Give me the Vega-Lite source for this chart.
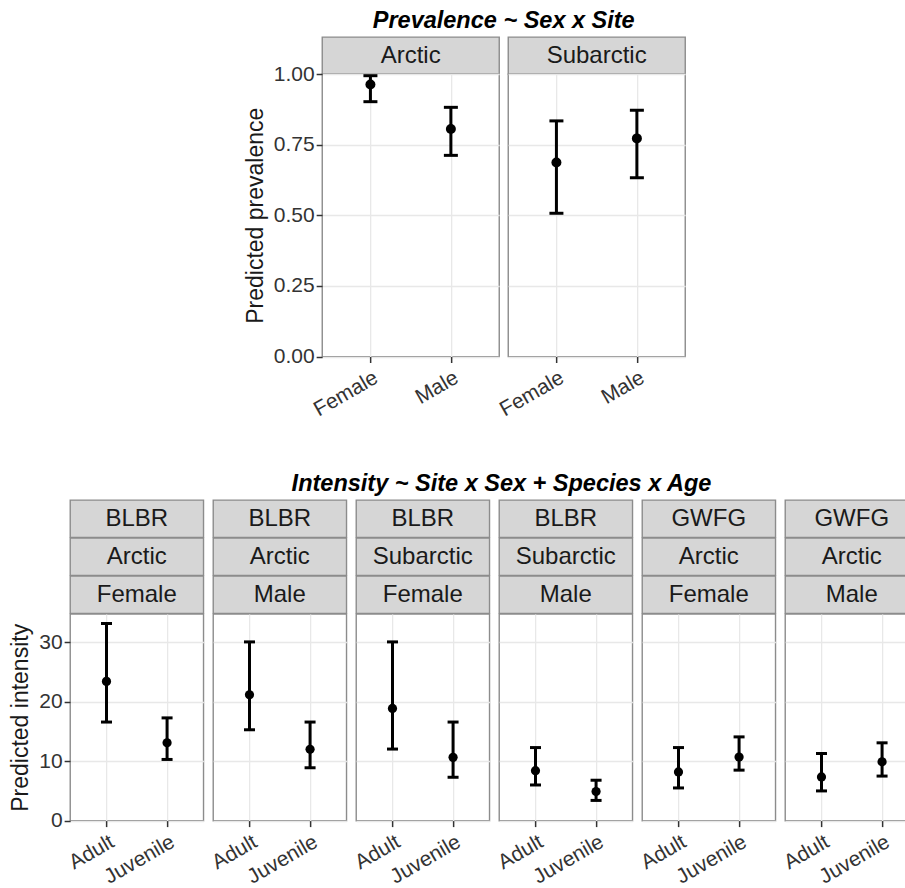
{
  "$schema": "https://vega.github.io/schema/vega-lite/v6.json",
  "background": "white",
  "padding": {"left": 9, "top": 8, "right": 0, "bottom": 0},
  "datasets": {
    "prev": [
      {"Site": "Arctic", "Sex": "Female", "fit": 0.963, "lo": 0.902, "hi": 0.994},
      {"Site": "Arctic", "Sex": "Male", "fit": 0.805, "lo": 0.712, "hi": 0.882},
      {"Site": "Subarctic", "Sex": "Female", "fit": 0.687, "lo": 0.507, "hi": 0.834},
      {"Site": "Subarctic", "Sex": "Male", "fit": 0.772, "lo": 0.633, "hi": 0.872}
    ],
    "int": [
      {"Species": "BLBR", "Site": "Arctic", "Sex": "Female", "Age": "Adult", "fit": 23.45, "lo": 16.6, "hi": 33.2},
      {"Species": "BLBR", "Site": "Arctic", "Sex": "Female", "Age": "Juvenile", "fit": 13.1, "lo": 10.3, "hi": 17.3},
      {"Species": "BLBR", "Site": "Arctic", "Sex": "Male", "Age": "Adult", "fit": 21.2, "lo": 15.3, "hi": 30.1},
      {"Species": "BLBR", "Site": "Arctic", "Sex": "Male", "Age": "Juvenile", "fit": 12.0, "lo": 8.9, "hi": 16.6},
      {"Species": "BLBR", "Site": "Subarctic", "Sex": "Female", "Age": "Adult", "fit": 18.9, "lo": 12.05, "hi": 30.1},
      {"Species": "BLBR", "Site": "Subarctic", "Sex": "Female", "Age": "Juvenile", "fit": 10.65, "lo": 7.3, "hi": 16.6},
      {"Species": "BLBR", "Site": "Subarctic", "Sex": "Male", "Age": "Adult", "fit": 8.4, "lo": 6.0, "hi": 12.3},
      {"Species": "BLBR", "Site": "Subarctic", "Sex": "Male", "Age": "Juvenile", "fit": 4.9, "lo": 3.4, "hi": 6.8},
      {"Species": "GWFG", "Site": "Arctic", "Sex": "Female", "Age": "Adult", "fit": 8.2, "lo": 5.5, "hi": 12.3},
      {"Species": "GWFG", "Site": "Arctic", "Sex": "Female", "Age": "Juvenile", "fit": 10.7, "lo": 8.5, "hi": 14.1},
      {"Species": "GWFG", "Site": "Arctic", "Sex": "Male", "Age": "Adult", "fit": 7.35, "lo": 5.0, "hi": 11.3},
      {"Species": "GWFG", "Site": "Arctic", "Sex": "Male", "Age": "Juvenile", "fit": 9.9, "lo": 7.5, "hi": 13.1}
    ]
  },
  "config": {
    "font": "Liberation Sans",
    "view": {"stroke": "#8c8c8c", "strokeWidth": 1.4},
    "axis": {
      "labelFontSize": 21, "labelColor": "#333333", "labelFont": "Liberation Sans",
      "titleFontSize": 23, "titleColor": "#1a1a1a", "titleFontWeight": "normal", "titleFont": "Liberation Sans",
      "gridColor": "#e8e8e8", "gridWidth": 1.3,
      "tickColor": "#333333", "tickWidth": 1.5, "tickSize": 6,
      "domain": false, "labelPadding": 2, "titlePadding": 6
    },
    "title": {"fontSize": 23.5, "fontWeight": "bold", "fontStyle": "italic", "color": "#000000", "anchor": "middle", "offset": 4, "font": "Liberation Sans"}
  },
  "spacing": 50,
  "center": true,
  "vconcat": [
    {
      "title": {"text": "Prevalence ~ Sex x Site", "dx": 39},
      "columns": 2,
      "bounds": "flush",
      "align": "each",
      "spacing": {"row": 0, "column": 9},
      "concat": [
        {
          "width": 177, "height": 37, "view": {"fill": "#d6d6d6", "stroke": "#8c8c8c", "strokeWidth": 1.4},
          "data": {"name": "prev"},
          "transform": [{"filter": "datum.Site == 'Arctic'"}, {"aggregate": [{"op": "count", "as": "n"}], "groupby": ["Site"]}],
          "mark": {"type": "text", "fontSize": 24, "color": "#1a1a1a"},
          "encoding": {"text": {"field": "Site", "type": "nominal"}}
        },
        {
          "width": 177, "height": 37, "view": {"fill": "#d6d6d6", "stroke": "#8c8c8c", "strokeWidth": 1.4},
          "data": {"name": "prev"},
          "transform": [{"filter": "datum.Site == 'Subarctic'"}, {"aggregate": [{"op": "count", "as": "n"}], "groupby": ["Site"]}],
          "mark": {"type": "text", "fontSize": 24, "color": "#1a1a1a"},
          "encoding": {"text": {"field": "Site", "type": "nominal"}}
        },
        {
          "width": 177, "height": 282.5,
          "data": {"name": "prev"},
          "transform": [{"filter": "datum.Site == 'Arctic'"}],
          "encoding": {"x": {"field": "Sex", "type": "nominal", "sort": ["Female", "Male"], "scale": {"type": "point", "padding": 0.6}, "axis": {"title": null, "labelAngle": -30, "labelAlign": "right", "labelBaseline": "top", "grid": true, "labelPadding": 4}}},
          "layer": [
            {"mark": {"type": "rule", "strokeWidth": 3, "color": "black"},
             "encoding": {"y": {"field": "lo", "type": "quantitative", "scale": {"domain": [0, 1], "nice": false},
               "axis": {"title": "Predicted prevalence", "values": [0, 0.125, 0.25, 0.375, 0.5, 0.625, 0.75, 0.875, 1],
                 "labelExpr": "datum.value * 8 % 2 == 1 ? '' : format(datum.value, '.2f')",
                 "tickOpacity": {"condition": {"test": "datum.value * 8 % 2 == 1", "value": 0}, "value": 1},
                 "gridColor": {"condition": {"test": "datum.value * 8 % 2 == 1", "value": "#f3f3f3"}, "value": "#e8e8e8"},
                 "labelOverlap": false}},
               "y2": {"field": "hi"}}},
            {"mark": {"type": "tick", "thickness": 3, "size": 14, "color": "black", "opacity": 1}, "encoding": {"y": {"field": "lo", "type": "quantitative"}}},
            {"mark": {"type": "tick", "thickness": 3, "size": 14, "color": "black", "opacity": 1}, "encoding": {"y": {"field": "hi", "type": "quantitative"}}},
            {"mark": {"type": "point", "filled": true, "size": 100, "color": "black", "opacity": 1}, "encoding": {"y": {"field": "fit", "type": "quantitative"}}}
          ]
        },
        {
          "width": 177, "height": 282.5,
          "data": {"name": "prev"},
          "transform": [{"filter": "datum.Site == 'Subarctic'"}],
          "encoding": {"x": {"field": "Sex", "type": "nominal", "sort": ["Female", "Male"], "scale": {"type": "point", "padding": 0.6}, "axis": {"title": null, "labelAngle": -30, "labelAlign": "right", "labelBaseline": "top", "grid": true, "labelPadding": 4}}},
          "layer": [
            {"mark": {"type": "rule", "strokeWidth": 3, "color": "black"},
             "encoding": {"y": {"field": "lo", "type": "quantitative", "scale": {"domain": [0, 1], "nice": false},
               "axis": {"title": null, "labels": false, "ticks": false, "values": [0, 0.125, 0.25, 0.375, 0.5, 0.625, 0.75, 0.875, 1],
                 "gridColor": {"condition": {"test": "datum.value * 8 % 2 == 1", "value": "#f3f3f3"}, "value": "#e8e8e8"}}},
               "y2": {"field": "hi"}}},
            {"mark": {"type": "tick", "thickness": 3, "size": 14, "color": "black", "opacity": 1}, "encoding": {"y": {"field": "lo", "type": "quantitative"}}},
            {"mark": {"type": "tick", "thickness": 3, "size": 14, "color": "black", "opacity": 1}, "encoding": {"y": {"field": "hi", "type": "quantitative"}}},
            {"mark": {"type": "point", "filled": true, "size": 100, "color": "black", "opacity": 1}, "encoding": {"y": {"field": "fit", "type": "quantitative"}}}
          ]
        }
      ]
    },
    {
      "title": {"text": "Intensity ~ Site x Sex + Species x Age", "dx": 28},
      "columns": 6,
      "bounds": "flush",
      "align": "each",
      "spacing": {"row": 0, "column": 9},
      "concat": [
        {"width": 133.3, "height": 37.3, "view": {"fill": "#d6d6d6", "stroke": "#8c8c8c", "strokeWidth": 1.4}, "data": {"name": "int"}, "transform": [{"filter": "datum.Species == 'BLBR' && datum.Site == 'Arctic' && datum.Sex == 'Female'"}, {"aggregate": [{"op": "count", "as": "n"}], "groupby": ["Species"]}], "mark": {"type": "text", "fontSize": 24, "color": "#1a1a1a"}, "encoding": {"text": {"field": "Species", "type": "nominal"}}},
        {"width": 133.3, "height": 37.3, "view": {"fill": "#d6d6d6", "stroke": "#8c8c8c", "strokeWidth": 1.4}, "data": {"name": "int"}, "transform": [{"filter": "datum.Species == 'BLBR' && datum.Site == 'Arctic' && datum.Sex == 'Male'"}, {"aggregate": [{"op": "count", "as": "n"}], "groupby": ["Species"]}], "mark": {"type": "text", "fontSize": 24, "color": "#1a1a1a"}, "encoding": {"text": {"field": "Species", "type": "nominal"}}},
        {"width": 133.3, "height": 37.3, "view": {"fill": "#d6d6d6", "stroke": "#8c8c8c", "strokeWidth": 1.4}, "data": {"name": "int"}, "transform": [{"filter": "datum.Species == 'BLBR' && datum.Site == 'Subarctic' && datum.Sex == 'Female'"}, {"aggregate": [{"op": "count", "as": "n"}], "groupby": ["Species"]}], "mark": {"type": "text", "fontSize": 24, "color": "#1a1a1a"}, "encoding": {"text": {"field": "Species", "type": "nominal"}}},
        {"width": 133.3, "height": 37.3, "view": {"fill": "#d6d6d6", "stroke": "#8c8c8c", "strokeWidth": 1.4}, "data": {"name": "int"}, "transform": [{"filter": "datum.Species == 'BLBR' && datum.Site == 'Subarctic' && datum.Sex == 'Male'"}, {"aggregate": [{"op": "count", "as": "n"}], "groupby": ["Species"]}], "mark": {"type": "text", "fontSize": 24, "color": "#1a1a1a"}, "encoding": {"text": {"field": "Species", "type": "nominal"}}},
        {"width": 133.3, "height": 37.3, "view": {"fill": "#d6d6d6", "stroke": "#8c8c8c", "strokeWidth": 1.4}, "data": {"name": "int"}, "transform": [{"filter": "datum.Species == 'GWFG' && datum.Site == 'Arctic' && datum.Sex == 'Female'"}, {"aggregate": [{"op": "count", "as": "n"}], "groupby": ["Species"]}], "mark": {"type": "text", "fontSize": 24, "color": "#1a1a1a"}, "encoding": {"text": {"field": "Species", "type": "nominal"}}},
        {"width": 133.3, "height": 37.3, "view": {"fill": "#d6d6d6", "stroke": "#8c8c8c", "strokeWidth": 1.4}, "data": {"name": "int"}, "transform": [{"filter": "datum.Species == 'GWFG' && datum.Site == 'Arctic' && datum.Sex == 'Male'"}, {"aggregate": [{"op": "count", "as": "n"}], "groupby": ["Species"]}], "mark": {"type": "text", "fontSize": 24, "color": "#1a1a1a"}, "encoding": {"text": {"field": "Species", "type": "nominal"}}},

        {"width": 133.3, "height": 37.3, "view": {"fill": "#d6d6d6", "stroke": "#8c8c8c", "strokeWidth": 1.4}, "data": {"name": "int"}, "transform": [{"filter": "datum.Species == 'BLBR' && datum.Site == 'Arctic' && datum.Sex == 'Female'"}, {"aggregate": [{"op": "count", "as": "n"}], "groupby": ["Site"]}], "mark": {"type": "text", "fontSize": 24, "color": "#1a1a1a"}, "encoding": {"text": {"field": "Site", "type": "nominal"}}},
        {"width": 133.3, "height": 37.3, "view": {"fill": "#d6d6d6", "stroke": "#8c8c8c", "strokeWidth": 1.4}, "data": {"name": "int"}, "transform": [{"filter": "datum.Species == 'BLBR' && datum.Site == 'Arctic' && datum.Sex == 'Male'"}, {"aggregate": [{"op": "count", "as": "n"}], "groupby": ["Site"]}], "mark": {"type": "text", "fontSize": 24, "color": "#1a1a1a"}, "encoding": {"text": {"field": "Site", "type": "nominal"}}},
        {"width": 133.3, "height": 37.3, "view": {"fill": "#d6d6d6", "stroke": "#8c8c8c", "strokeWidth": 1.4}, "data": {"name": "int"}, "transform": [{"filter": "datum.Species == 'BLBR' && datum.Site == 'Subarctic' && datum.Sex == 'Female'"}, {"aggregate": [{"op": "count", "as": "n"}], "groupby": ["Site"]}], "mark": {"type": "text", "fontSize": 24, "color": "#1a1a1a"}, "encoding": {"text": {"field": "Site", "type": "nominal"}}},
        {"width": 133.3, "height": 37.3, "view": {"fill": "#d6d6d6", "stroke": "#8c8c8c", "strokeWidth": 1.4}, "data": {"name": "int"}, "transform": [{"filter": "datum.Species == 'BLBR' && datum.Site == 'Subarctic' && datum.Sex == 'Male'"}, {"aggregate": [{"op": "count", "as": "n"}], "groupby": ["Site"]}], "mark": {"type": "text", "fontSize": 24, "color": "#1a1a1a"}, "encoding": {"text": {"field": "Site", "type": "nominal"}}},
        {"width": 133.3, "height": 37.3, "view": {"fill": "#d6d6d6", "stroke": "#8c8c8c", "strokeWidth": 1.4}, "data": {"name": "int"}, "transform": [{"filter": "datum.Species == 'GWFG' && datum.Site == 'Arctic' && datum.Sex == 'Female'"}, {"aggregate": [{"op": "count", "as": "n"}], "groupby": ["Site"]}], "mark": {"type": "text", "fontSize": 24, "color": "#1a1a1a"}, "encoding": {"text": {"field": "Site", "type": "nominal"}}},
        {"width": 133.3, "height": 37.3, "view": {"fill": "#d6d6d6", "stroke": "#8c8c8c", "strokeWidth": 1.4}, "data": {"name": "int"}, "transform": [{"filter": "datum.Species == 'GWFG' && datum.Site == 'Arctic' && datum.Sex == 'Male'"}, {"aggregate": [{"op": "count", "as": "n"}], "groupby": ["Site"]}], "mark": {"type": "text", "fontSize": 24, "color": "#1a1a1a"}, "encoding": {"text": {"field": "Site", "type": "nominal"}}},

        {"width": 133.3, "height": 37.3, "view": {"fill": "#d6d6d6", "stroke": "#8c8c8c", "strokeWidth": 1.4}, "data": {"name": "int"}, "transform": [{"filter": "datum.Species == 'BLBR' && datum.Site == 'Arctic' && datum.Sex == 'Female'"}, {"aggregate": [{"op": "count", "as": "n"}], "groupby": ["Sex"]}], "mark": {"type": "text", "fontSize": 24, "color": "#1a1a1a"}, "encoding": {"text": {"field": "Sex", "type": "nominal"}}},
        {"width": 133.3, "height": 37.3, "view": {"fill": "#d6d6d6", "stroke": "#8c8c8c", "strokeWidth": 1.4}, "data": {"name": "int"}, "transform": [{"filter": "datum.Species == 'BLBR' && datum.Site == 'Arctic' && datum.Sex == 'Male'"}, {"aggregate": [{"op": "count", "as": "n"}], "groupby": ["Sex"]}], "mark": {"type": "text", "fontSize": 24, "color": "#1a1a1a"}, "encoding": {"text": {"field": "Sex", "type": "nominal"}}},
        {"width": 133.3, "height": 37.3, "view": {"fill": "#d6d6d6", "stroke": "#8c8c8c", "strokeWidth": 1.4}, "data": {"name": "int"}, "transform": [{"filter": "datum.Species == 'BLBR' && datum.Site == 'Subarctic' && datum.Sex == 'Female'"}, {"aggregate": [{"op": "count", "as": "n"}], "groupby": ["Sex"]}], "mark": {"type": "text", "fontSize": 24, "color": "#1a1a1a"}, "encoding": {"text": {"field": "Sex", "type": "nominal"}}},
        {"width": 133.3, "height": 37.3, "view": {"fill": "#d6d6d6", "stroke": "#8c8c8c", "strokeWidth": 1.4}, "data": {"name": "int"}, "transform": [{"filter": "datum.Species == 'BLBR' && datum.Site == 'Subarctic' && datum.Sex == 'Male'"}, {"aggregate": [{"op": "count", "as": "n"}], "groupby": ["Sex"]}], "mark": {"type": "text", "fontSize": 24, "color": "#1a1a1a"}, "encoding": {"text": {"field": "Sex", "type": "nominal"}}},
        {"width": 133.3, "height": 37.3, "view": {"fill": "#d6d6d6", "stroke": "#8c8c8c", "strokeWidth": 1.4}, "data": {"name": "int"}, "transform": [{"filter": "datum.Species == 'GWFG' && datum.Site == 'Arctic' && datum.Sex == 'Female'"}, {"aggregate": [{"op": "count", "as": "n"}], "groupby": ["Sex"]}], "mark": {"type": "text", "fontSize": 24, "color": "#1a1a1a"}, "encoding": {"text": {"field": "Sex", "type": "nominal"}}},
        {"width": 133.3, "height": 37.3, "view": {"fill": "#d6d6d6", "stroke": "#8c8c8c", "strokeWidth": 1.4}, "data": {"name": "int"}, "transform": [{"filter": "datum.Species == 'GWFG' && datum.Site == 'Arctic' && datum.Sex == 'Male'"}, {"aggregate": [{"op": "count", "as": "n"}], "groupby": ["Sex"]}], "mark": {"type": "text", "fontSize": 24, "color": "#1a1a1a"}, "encoding": {"text": {"field": "Sex", "type": "nominal"}}},

        {
          "width": 133.3, "height": 206.6, "data": {"name": "int"},
          "transform": [{"filter": "datum.Species == 'BLBR' && datum.Site == 'Arctic' && datum.Sex == 'Female'"}],
          "encoding": {"x": {"field": "Age", "type": "nominal", "sort": ["Adult", "Juvenile"], "scale": {"type": "point", "padding": 0.6}, "axis": {"title": null, "labelAngle": -30, "labelAlign": "right", "labelBaseline": "top", "grid": true, "labelPadding": 4}}},
          "layer": [
            {"mark": {"type": "rule", "strokeWidth": 3, "color": "black"},
             "encoding": {"y": {"field": "lo", "type": "quantitative", "scale": {"domain": [0, 34.8], "nice": false},
               "axis": {"title": "Predicted intensity", "values": [0, 5, 10, 15, 20, 25, 30],
                 "labelExpr": "datum.value % 10 != 0 ? '' : datum.label",
                 "tickOpacity": {"condition": {"test": "datum.value % 10 != 0", "value": 0}, "value": 1},
                 "gridColor": {"condition": {"test": "datum.value % 10 != 0", "value": "#f3f3f3"}, "value": "#e8e8e8"},
                 "labelOverlap": false}},
               "y2": {"field": "hi"}}},
            {"mark": {"type": "tick", "thickness": 3, "size": 11, "color": "black", "opacity": 1}, "encoding": {"y": {"field": "lo", "type": "quantitative"}}},
            {"mark": {"type": "tick", "thickness": 3, "size": 11, "color": "black", "opacity": 1}, "encoding": {"y": {"field": "hi", "type": "quantitative"}}},
            {"mark": {"type": "point", "filled": true, "size": 85, "color": "black", "opacity": 1}, "encoding": {"y": {"field": "fit", "type": "quantitative"}}}
          ]
        },
        {
          "width": 133.3, "height": 206.6, "data": {"name": "int"},
          "transform": [{"filter": "datum.Species == 'BLBR' && datum.Site == 'Arctic' && datum.Sex == 'Male'"}],
          "encoding": {"x": {"field": "Age", "type": "nominal", "sort": ["Adult", "Juvenile"], "scale": {"type": "point", "padding": 0.6}, "axis": {"title": null, "labelAngle": -30, "labelAlign": "right", "labelBaseline": "top", "grid": true, "labelPadding": 4}}},
          "layer": [
            {"mark": {"type": "rule", "strokeWidth": 3, "color": "black"},
             "encoding": {"y": {"field": "lo", "type": "quantitative", "scale": {"domain": [0, 34.8], "nice": false},
               "axis": {"title": null, "labels": false, "ticks": false, "values": [0, 5, 10, 15, 20, 25, 30],
                 "gridColor": {"condition": {"test": "datum.value % 10 != 0", "value": "#f3f3f3"}, "value": "#e8e8e8"}}},
               "y2": {"field": "hi"}}},
            {"mark": {"type": "tick", "thickness": 3, "size": 11, "color": "black", "opacity": 1}, "encoding": {"y": {"field": "lo", "type": "quantitative"}}},
            {"mark": {"type": "tick", "thickness": 3, "size": 11, "color": "black", "opacity": 1}, "encoding": {"y": {"field": "hi", "type": "quantitative"}}},
            {"mark": {"type": "point", "filled": true, "size": 85, "color": "black", "opacity": 1}, "encoding": {"y": {"field": "fit", "type": "quantitative"}}}
          ]
        },
        {
          "width": 133.3, "height": 206.6, "data": {"name": "int"},
          "transform": [{"filter": "datum.Species == 'BLBR' && datum.Site == 'Subarctic' && datum.Sex == 'Female'"}],
          "encoding": {"x": {"field": "Age", "type": "nominal", "sort": ["Adult", "Juvenile"], "scale": {"type": "point", "padding": 0.6}, "axis": {"title": null, "labelAngle": -30, "labelAlign": "right", "labelBaseline": "top", "grid": true, "labelPadding": 4}}},
          "layer": [
            {"mark": {"type": "rule", "strokeWidth": 3, "color": "black"},
             "encoding": {"y": {"field": "lo", "type": "quantitative", "scale": {"domain": [0, 34.8], "nice": false},
               "axis": {"title": null, "labels": false, "ticks": false, "values": [0, 5, 10, 15, 20, 25, 30],
                 "gridColor": {"condition": {"test": "datum.value % 10 != 0", "value": "#f3f3f3"}, "value": "#e8e8e8"}}},
               "y2": {"field": "hi"}}},
            {"mark": {"type": "tick", "thickness": 3, "size": 11, "color": "black", "opacity": 1}, "encoding": {"y": {"field": "lo", "type": "quantitative"}}},
            {"mark": {"type": "tick", "thickness": 3, "size": 11, "color": "black", "opacity": 1}, "encoding": {"y": {"field": "hi", "type": "quantitative"}}},
            {"mark": {"type": "point", "filled": true, "size": 85, "color": "black", "opacity": 1}, "encoding": {"y": {"field": "fit", "type": "quantitative"}}}
          ]
        },
        {
          "width": 133.3, "height": 206.6, "data": {"name": "int"},
          "transform": [{"filter": "datum.Species == 'BLBR' && datum.Site == 'Subarctic' && datum.Sex == 'Male'"}],
          "encoding": {"x": {"field": "Age", "type": "nominal", "sort": ["Adult", "Juvenile"], "scale": {"type": "point", "padding": 0.6}, "axis": {"title": null, "labelAngle": -30, "labelAlign": "right", "labelBaseline": "top", "grid": true, "labelPadding": 4}}},
          "layer": [
            {"mark": {"type": "rule", "strokeWidth": 3, "color": "black"},
             "encoding": {"y": {"field": "lo", "type": "quantitative", "scale": {"domain": [0, 34.8], "nice": false},
               "axis": {"title": null, "labels": false, "ticks": false, "values": [0, 5, 10, 15, 20, 25, 30],
                 "gridColor": {"condition": {"test": "datum.value % 10 != 0", "value": "#f3f3f3"}, "value": "#e8e8e8"}}},
               "y2": {"field": "hi"}}},
            {"mark": {"type": "tick", "thickness": 3, "size": 11, "color": "black", "opacity": 1}, "encoding": {"y": {"field": "lo", "type": "quantitative"}}},
            {"mark": {"type": "tick", "thickness": 3, "size": 11, "color": "black", "opacity": 1}, "encoding": {"y": {"field": "hi", "type": "quantitative"}}},
            {"mark": {"type": "point", "filled": true, "size": 85, "color": "black", "opacity": 1}, "encoding": {"y": {"field": "fit", "type": "quantitative"}}}
          ]
        },
        {
          "width": 133.3, "height": 206.6, "data": {"name": "int"},
          "transform": [{"filter": "datum.Species == 'GWFG' && datum.Site == 'Arctic' && datum.Sex == 'Female'"}],
          "encoding": {"x": {"field": "Age", "type": "nominal", "sort": ["Adult", "Juvenile"], "scale": {"type": "point", "padding": 0.6}, "axis": {"title": null, "labelAngle": -30, "labelAlign": "right", "labelBaseline": "top", "grid": true, "labelPadding": 4}}},
          "layer": [
            {"mark": {"type": "rule", "strokeWidth": 3, "color": "black"},
             "encoding": {"y": {"field": "lo", "type": "quantitative", "scale": {"domain": [0, 34.8], "nice": false},
               "axis": {"title": null, "labels": false, "ticks": false, "values": [0, 5, 10, 15, 20, 25, 30],
                 "gridColor": {"condition": {"test": "datum.value % 10 != 0", "value": "#f3f3f3"}, "value": "#e8e8e8"}}},
               "y2": {"field": "hi"}}},
            {"mark": {"type": "tick", "thickness": 3, "size": 11, "color": "black", "opacity": 1}, "encoding": {"y": {"field": "lo", "type": "quantitative"}}},
            {"mark": {"type": "tick", "thickness": 3, "size": 11, "color": "black", "opacity": 1}, "encoding": {"y": {"field": "hi", "type": "quantitative"}}},
            {"mark": {"type": "point", "filled": true, "size": 85, "color": "black", "opacity": 1}, "encoding": {"y": {"field": "fit", "type": "quantitative"}}}
          ]
        },
        {
          "width": 133.3, "height": 206.6, "data": {"name": "int"},
          "transform": [{"filter": "datum.Species == 'GWFG' && datum.Site == 'Arctic' && datum.Sex == 'Male'"}],
          "encoding": {"x": {"field": "Age", "type": "nominal", "sort": ["Adult", "Juvenile"], "scale": {"type": "point", "padding": 0.6}, "axis": {"title": null, "labelAngle": -30, "labelAlign": "right", "labelBaseline": "top", "grid": true, "labelPadding": 4}}},
          "layer": [
            {"mark": {"type": "rule", "strokeWidth": 3, "color": "black"},
             "encoding": {"y": {"field": "lo", "type": "quantitative", "scale": {"domain": [0, 34.8], "nice": false},
               "axis": {"title": null, "labels": false, "ticks": true, "tickSize": 18, "tickColor": "white", "orient": "right", "values": [0, 5, 10, 15, 20, 25, 30],
                 "gridColor": {"condition": {"test": "datum.value % 10 != 0", "value": "#f3f3f3"}, "value": "#e8e8e8"}}},
               "y2": {"field": "hi"}}},
            {"mark": {"type": "tick", "thickness": 3, "size": 11, "color": "black", "opacity": 1}, "encoding": {"y": {"field": "lo", "type": "quantitative"}}},
            {"mark": {"type": "tick", "thickness": 3, "size": 11, "color": "black", "opacity": 1}, "encoding": {"y": {"field": "hi", "type": "quantitative"}}},
            {"mark": {"type": "point", "filled": true, "size": 85, "color": "black", "opacity": 1}, "encoding": {"y": {"field": "fit", "type": "quantitative"}}}
          ]
        }
      ]
    }
  ]
}
